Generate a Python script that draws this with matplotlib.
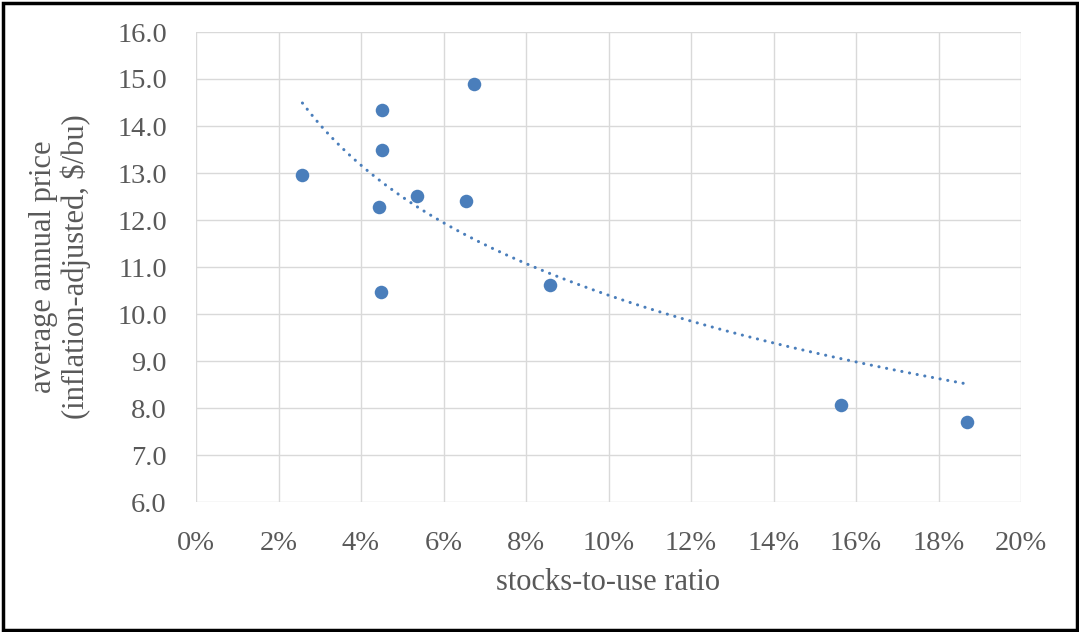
import numpy as np
import matplotlib
matplotlib.use("Agg")
import matplotlib.pyplot as plt
from matplotlib.patches import Rectangle

# Data (stocks-to-use ratio in %, price in $/bu)
stocks_to_use = [2.58, 4.52, 4.52, 4.44, 4.49, 5.36, 6.55, 6.75, 8.57, 15.63, 18.69]
price = [12.95, 14.33, 13.50, 12.27, 10.47, 12.51, 12.41, 14.89, 10.62, 8.07, 7.70]

x_ticks = [0, 2, 4, 6, 8, 10, 12, 14, 16, 18, 20]
x_tick_labels = [f"{t}%" for t in x_ticks]
y_ticks = [6, 7, 8, 9, 10, 11, 12, 13, 14, 15, 16]
y_tick_labels = [f"{t:.1f}" for t in y_ticks]

plt.rcParams['font.family'] = ['Liberation Serif', 'DejaVu Serif']
text_color = '#595959'
point_color = '#4a7ebb'

fig = plt.figure(figsize=(10.79, 6.32), dpi=100)
W, H = 1079, 632
ax = fig.add_axes([196 / W, 1 - 502 / H, (1021 - 196) / W, (502 - 32) / H])

# Logarithmic trendline fitted to the data
xs = np.array(stocks_to_use)
ys = np.array(price)
b, a = np.polyfit(np.log(xs), ys, 1)
xt = np.linspace(xs.min(), xs.max(), 200)
ax.plot(xt, a + b * np.log(xt), color=point_color, lw=2.2,
        linestyle=(0, (0.05, 2.5)), dash_capstyle='round', zorder=3)

ax.scatter(stocks_to_use, price, s=95, color=point_color, zorder=4, linewidths=0)

ax.set_xlim(0, 20)
ax.set_ylim(6, 16)
ax.set_xticks(x_ticks)
ax.set_xticklabels(x_tick_labels)
ax.set_yticks(y_ticks)
ax.set_yticklabels(y_tick_labels)
ax.grid(True, color='#d9d9d9', lw=1.0)
ax.set_axisbelow(True)
for s in ax.spines.values():
    s.set_visible(False)
ax.tick_params(length=0, labelsize=20.5, colors=text_color)
ax.tick_params(axis='y', pad=21)
ax.tick_params(axis='x', pad=21)

fig.text(608 / W, 1 - 582 / H, "stocks-to-use ratio", ha='center', va='center',
         fontsize=22, color=text_color)
fig.text(60 / W, 1 - 267 / H, "average annual price\n(inflation-adjusted, $/bu)",
         ha='center', va='center', rotation=90, fontsize=22, color=text_color,
         linespacing=1.12)

fig.patches.append(Rectangle((2.5 / W, 2.5 / H), (W - 5) / W, (H - 5) / H,
                             transform=fig.transFigure, fill=False,
                             edgecolor='black', lw=2.5))

fig.savefig("out.png", dpi=100)
